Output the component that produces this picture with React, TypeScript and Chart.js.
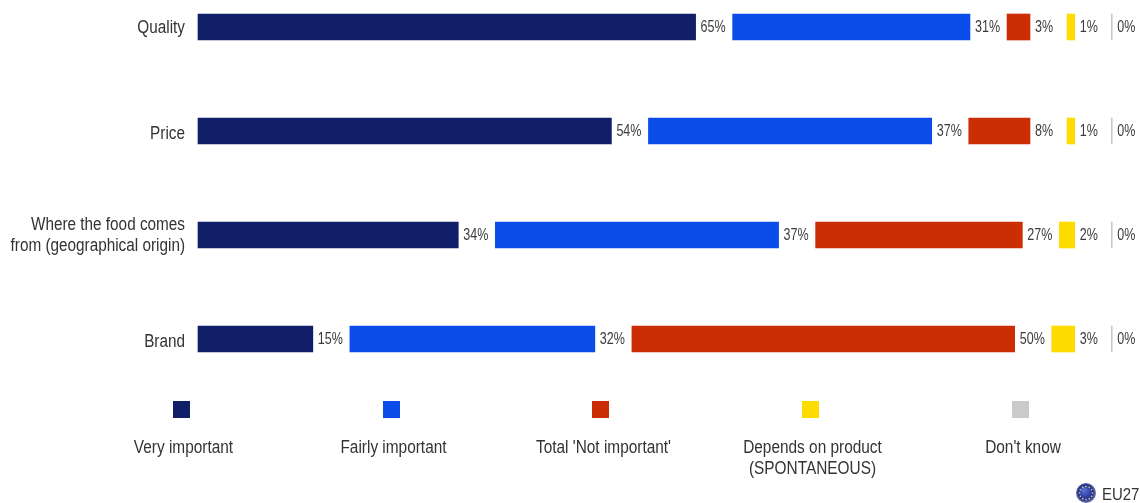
import React, { useEffect, useRef } from "react";
import { Chart, registerables } from "chart.js";

Chart.register(...registerables);

const categories: (string | string[])[] = [
  "Quality",
  "Price",
  ["Where the food comes", "from (geographical origin)"],
  "Brand",
];
const veryImportant = [65, 54, 34, 15];
const fairlyImportant = [31, 37, 37, 32];
const notImportant = [3, 8, 27, 50];
const dependsOnProduct = [1, 1, 2, 3];
const dontKnow = [0, 0, 0, 0];
const labelGap = [4.84, 4.84, 4.84, 4.84];
const legendLabels: string[][] = [
  ["Very important"],
  ["Fairly important"],
  ["Total 'Not important'"],
  ["Depends on product", "(SPONTANEOUS)"],
  ["Don't know"],
];
const colors = ["#111F68", "#0B4DE8", "#CC2E04", "#FFDC00", "#C9CACC"];
const legendSwatchX = [173, 383, 592, 802, 1012];
const legendTextX = [183.5, 393.5, 603.5, 812.5, 1023];
const tickNudge = [0, 2, 0, 2];
const FONT = '"Liberation Sans", Arial, sans-serif';
const TEXT = "#333333";

// The reference uses a condensed face: draw text squeezed horizontally.
function squeezed(ctx: any, text: string, x: number, y: number, sx: number) {
  ctx.save();
  ctx.translate(x, y);
  ctx.scale(sx, 1);
  ctx.fillText(text, 0, 0);
  ctx.restore();
}

const squeezeTicksPlugin = {
  id: "squeezeTicks",
  afterLayout(chart: any) {
    const s = chart.scales.y;
    const ctx = chart.ctx;
    const rightEdge = s.right - 13;
    const proto = Object.getPrototypeOf(s);
    s._computeLabelArea = () => undefined;
    s._computeLabelItems = function (area: any) {
      return proto._computeLabelItems.call(s, area).map((it: any, i: number) => ({
        ...it,
        options: {
          ...it.options,
          translation: [it.options.translation[0], it.options.translation[1] + tickNudge[i]],
        },
      }));
    };
    s.drawLabels = function (area: any) {
      ctx.save();
      ctx.translate(rightEdge, 1);
      ctx.scale(0.875, 1);
      ctx.translate(-rightEdge, 0);
      proto.drawLabels.call(s, area);
      ctx.restore();
    };
  },
};

const valuePlugin = {
  id: "valueLabels",
  afterDatasetsDraw(chart: any) {
    const { ctx } = chart;
    ctx.save();
    ctx.font = `16.5px ${FONT}`;
    ctx.fillStyle = "#3c3c3c";
    ctx.textAlign = "left";
    ctx.textBaseline = "middle";
    chart.data.datasets.forEach((ds: any, i: number) => {
      if (ds.isGap) return;
      chart.getDatasetMeta(i).data.forEach((el: any, j: number) => {
        squeezed(ctx, `${ds.data[j]}%`, el.x + 5, el.y + 0.5, 0.76);
      });
    });
    ctx.restore();
  },
};

const legendPlugin = {
  id: "sideLegend",
  afterDraw(chart: any) {
    const { ctx } = chart;
    ctx.save();
    legendLabels.forEach((lines, i) => {
      ctx.fillStyle = colors[i];
      ctx.fillRect(legendSwatchX[i], 401, 17, 17);
      ctx.font = `17.5px ${FONT}`;
      ctx.fillStyle = TEXT;
      ctx.textAlign = "center";
      ctx.textBaseline = "middle";
      lines.forEach((t, k) => squeezed(ctx, t, legendTextX[i], 448 + k * 21, 0.88));
    });

    // EU27 badge
    const cx = 1086;
    const cy = 493;
    const g = ctx.createRadialGradient(cx - 2, cy - 3, 1, cx, cy, 10);
    g.addColorStop(0, "#5a6fd0");
    g.addColorStop(0.7, "#1f2f96");
    g.addColorStop(1, "#6f78b0");
    ctx.fillStyle = g;
    ctx.beginPath();
    ctx.arc(cx, cy, 10, 0, Math.PI * 2);
    ctx.fill();
    ctx.fillStyle = "#e8d84a";
    for (let s = 0; s < 12; s++) {
      const a = (s / 12) * Math.PI * 2;
      ctx.beginPath();
      ctx.arc(cx + Math.cos(a) * 6.5, cy + Math.sin(a) * 6.5, 0.8, 0, Math.PI * 2);
      ctx.fill();
    }
    ctx.font = `17px ${FONT}`;
    ctx.fillStyle = TEXT;
    ctx.textAlign = "left";
    ctx.textBaseline = "middle";
    squeezed(ctx, "EU27", 1102, 495, 0.88);
    ctx.restore();
  },
};

export default function App() {
  const ref = useRef<HTMLCanvasElement>(null);
  useEffect(() => {
    const gap = () => ({
      label: "",
      data: labelGap,
      backgroundColor: "rgba(0,0,0,0)",
      isGap: true,
    });
    const bar = (label: string, data: number[], color: string) => ({
      label,
      data,
      backgroundColor: color,
    });
    const chart = new Chart(ref.current as HTMLCanvasElement, {
      type: "bar",
      data: {
        labels: categories as any,
        datasets: [
          bar("Very important", veryImportant, colors[0]),
          gap(),
          bar("Fairly important", fairlyImportant, colors[1]),
          gap(),
          bar("Total 'Not important'", notImportant, colors[2]),
          gap(),
          bar("Depends on product (SPONTANEOUS)", dependsOnProduct, colors[3]),
          gap(),
          { ...bar("Don't know", dontKnow, colors[4]), minBarLength: 1 },
        ] as any,
      },
      options: {
        indexAxis: "y",
        responsive: false,
        animation: false,
        devicePixelRatio: 1,
        clip: false,
        barThickness: 26,
        layout: { padding: { top: 27, bottom: 164, left: 0, right: 0 } },
        plugins: { legend: { display: false }, tooltip: { enabled: false } },
        scales: {
          x: { stacked: true, display: false, min: 0, max: 123.05 },
          y: {
            stacked: true,
            offset: false,
            border: { display: false },
            grid: { display: false, drawTicks: false },
            afterFit: (s: any) => {
              s.width = 198;
            },
            ticks: {
              padding: 13,
              color: TEXT,
              autoSkip: false,
              font: { family: FONT, size: 17.5, lineHeight: 1.2 },
            },
          },
        },
      } as any,
      plugins: [squeezeTicksPlugin, valuePlugin, legendPlugin],
    });
    return () => chart.destroy();
  }, []);
  return (
    <div style={{ position: "absolute", left: 0, top: 0, width: 1140, height: 503, background: "#fff" }}>
      <canvas ref={ref} width={1140} height={503} style={{ display: "block" }} />
    </div>
  );
}
